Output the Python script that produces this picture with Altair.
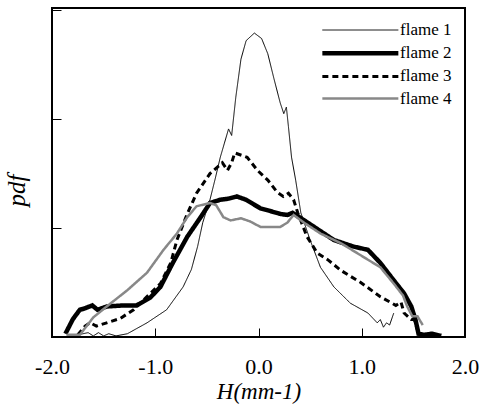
import altair as alt
import pandas as pd

series_names = ["flame 1", "flame 2", "flame 3", "flame 4"]

f1_x = [-1.75, -1.65, -1.6, -1.55, -1.5, -1.45, -1.38, -1.27, -1.08, -0.89, -0.73, -0.65, -0.59, -0.54,
        -0.47, -0.42, -0.37, -0.33, -0.29, -0.26, -0.22, -0.17, -0.12, -0.04, 0.03, 0.09, 0.15, 0.21,
        0.245, 0.27, 0.29, 0.32, 0.36, 0.41, 0.50, 0.60, 0.73, 0.89, 1.06, 1.15, 1.18, 1.21, 1.24,
        1.27, 1.31]
f1_y = [0.02, 0.04, 0.01, 0.04, 0.01, 0.03, 0.01, 0.03, 0.13, 0.25, 0.46, 0.62, 0.83, 1.05,
        1.26, 1.45, 1.65, 1.78, 1.91, 1.85, 2.2, 2.55, 2.72, 2.79, 2.74, 2.6, 2.37, 2.15,
        2.05, 2.11, 1.93, 1.65, 1.44, 1.14, 0.89, 0.64, 0.46, 0.31, 0.22, 0.13, 0.16, 0.09, 0.13,
        0.11, 0.22]

f2_x = [-1.87, -1.8, -1.77, -1.73, -1.69, -1.61, -1.56, -1.47, -1.3, -1.18, -1.05, -0.95, -0.83,
        -0.69, -0.56, -0.47, -0.37, -0.29, -0.21, -0.12, -0.05, 0.02, 0.1, 0.21, 0.28, 0.33, 0.38,
        0.54, 0.73, 0.92, 1.06, 1.18, 1.31, 1.41, 1.48, 1.52, 1.55, 1.6, 1.68, 1.77]
f2_y = [0.03, 0.16, 0.2, 0.25, 0.26, 0.29, 0.25, 0.28, 0.29, 0.29, 0.36, 0.46, 0.68,
        0.92, 1.10, 1.23, 1.26, 1.27, 1.29, 1.26, 1.22, 1.18, 1.16, 1.13, 1.12, 1.14, 1.11,
        1.01, 0.89, 0.83, 0.80, 0.68, 0.52, 0.40, 0.28, 0.16, 0.03, 0.02, 0.03, 0.01]

f3_x = [-1.75, -1.68, -1.63, -1.57, -1.47, -1.34, -1.21, -1.08, -0.95, -0.85, -0.79, -0.69, -0.6,
        -0.47, -0.35, -0.30, -0.26, -0.23, -0.11, -0.01, 0.09, 0.18, 0.24, 0.29, 0.34, 0.38, 0.47,
        0.57, 0.67, 0.80, 0.99, 1.18, 1.33, 1.38, 1.41, 1.48, 1.51, 1.55]
f3_y = [0.02, 0.10, 0.13, 0.10, 0.13, 0.17, 0.25, 0.37, 0.49, 0.68, 0.89, 1.13, 1.32,
        1.50, 1.60, 1.53, 1.60, 1.69, 1.65, 1.53, 1.44, 1.33, 1.29, 1.32, 1.26, 1.14, 0.92,
        0.77, 0.71, 0.61, 0.50, 0.37, 0.29, 0.32, 0.22, 0.16, 0.16, 0.03]

f4_x = [-1.86, -1.73, -1.6, -1.47, -1.27, -1.08, -0.92, -0.79, -0.69, -0.6, -0.47, -0.41, -0.34,
        -0.27, -0.17, -0.08, 0.02, 0.21, 0.28, 0.34, 0.44, 0.60, 0.80, 0.99, 1.18, 1.31, 1.40,
        1.44, 1.49, 1.54, 1.59]
f4_y = [0.02, 0.02, 0.18, 0.28, 0.43, 0.59, 0.80, 0.95, 1.10, 1.20, 1.23, 1.21, 1.10,
        1.07, 1.09, 1.06, 1.01, 1.01, 1.05, 1.12, 1.05, 0.95, 0.86, 0.75, 0.64, 0.49, 0.38,
        0.28, 0.19, 0.19, 0.11]

x_ticks = [-2.0, -1.0, 0.0, 1.0, 2.0]
y_ticks = [0, 1, 2, 3]

rows = []
for name, xs, ys in zip(series_names, [f1_x, f2_x, f3_x, f4_x], [f1_y, f2_y, f3_y, f4_y]):
    for i, (xv, yv) in enumerate(zip(xs, ys)):
        rows.append({"series": name, "H": xv, "pdf": yv, "order": i})
df = pd.DataFrame(rows)

SERIF = "Liberation Serif"

legend = alt.Legend(
    title=None,
    orient="none",
    legendX=322,
    legendY=12,
    symbolType="M-6.7,0H1.3",
    symbolSize=361,
    labelOffset=2,
    labelFont=SERIF,
    labelFontSize=17,
    labelColor="black",
    rowPadding=3.2,
    padding=0,
)

chart = (
    alt.Chart(df)
    .mark_line(clip=True)
    .encode(
        x=alt.X(
            "H:Q",
            scale=alt.Scale(domain=[-2, 2], nice=False, zero=False),
            axis=alt.Axis(
                values=x_ticks,
                title="H(mm-1)",
                labelExpr="datum.value < 0 ? '-' + format(-datum.value, '.1f') : format(datum.value, '.1f')",
                labelFlush=False,
                labelOverlap=False,
                domain=False,
                grid=False,
                offset=-9,
                tickSize=9,
                tickColor="black",
                tickWidth=1,
                labelPadding=19,
                labelFont=SERIF,
                labelFontSize=22,
                labelColor="black",
                titleFont=SERIF,
                titleFontSize=23,
                titleFontStyle="italic",
                titleFontWeight="normal",
                titleColor="black",
                titleBaseline="alphabetic",
                titleY=70,
            ),
        ),
        y=alt.Y(
            "pdf:Q",
            scale=alt.Scale(domain=[0, 3.02], nice=False),
            axis=alt.Axis(
                values=y_ticks,
                labels=False,
                title="pdf",
                domain=False,
                grid=False,
                offset=-9,
                tickSize=9,
                tickColor="black",
                tickWidth=1,
                titleFont=SERIF,
                titleFontSize=25,
                titleFontStyle="italic",
                titleFontWeight="normal",
                titleColor="black",
                titleBaseline="alphabetic",
                titleAlign="center",
                titleAngle=270,
                titleX=-37,
                titleY=182,
            ),
        ),
        color=alt.Color(
            "series:N",
            scale=alt.Scale(domain=series_names, range=["black", "black", "black", "#888888"]),
            legend=legend,
        ),
        strokeWidth=alt.StrokeWidth(
            "series:N",
            scale=alt.Scale(type="ordinal", domain=series_names, range=[1, 4.5, 3, 2.5]),
            legend=legend,
        ),
        strokeDash=alt.StrokeDash(
            "series:N",
            scale=alt.Scale(domain=series_names, range=[[1, 0], [1, 0], [6, 4], [1, 0]]),
            legend=legend,
        ),
        order="order:Q",
    )
    .properties(width=413, height=329)
    .configure_view(stroke="black", strokeWidth=2)
    .properties(
        autosize=alt.AutoSizeParams(type="none"),
        padding={"left": 52, "top": 8, "right": 17, "bottom": 78},
        background="white",
    )
)

chart.save("out.html", embed_options={"renderer": "svg", "actions": False})
